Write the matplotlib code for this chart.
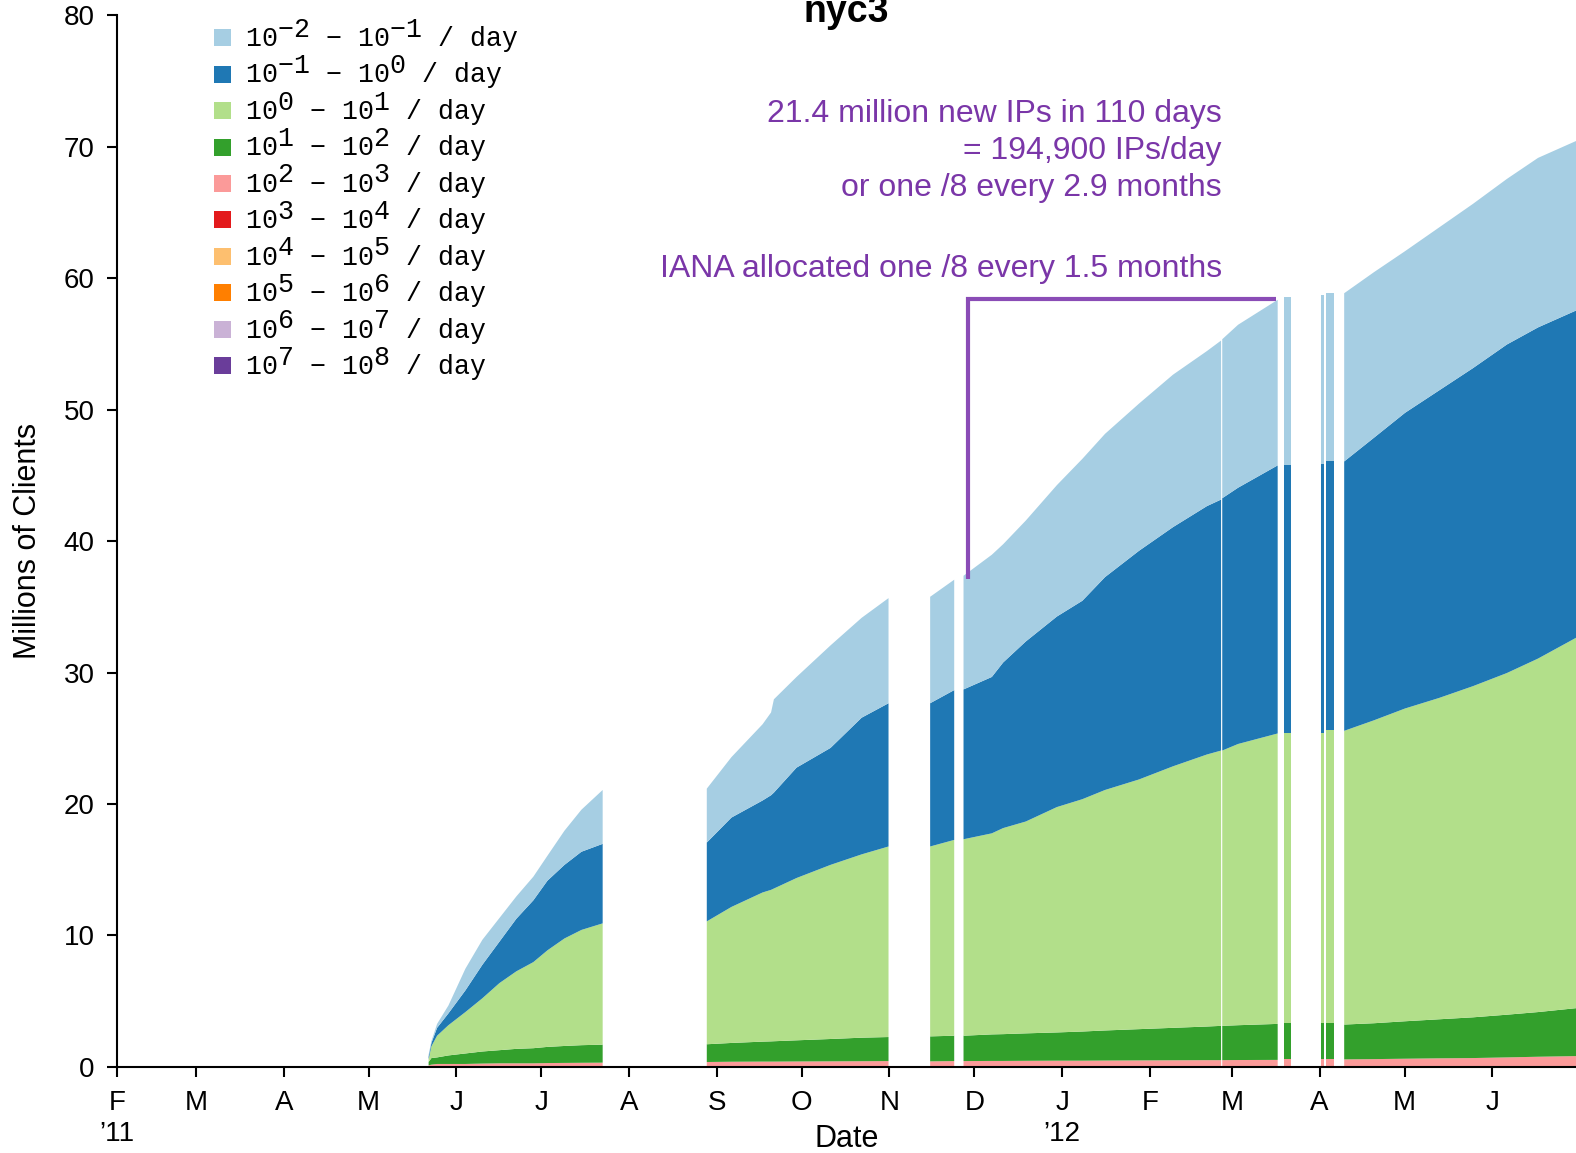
import matplotlib
matplotlib.use('Agg')
import numpy as np
import pandas as pd
import matplotlib.pyplot as plt
import matplotlib.patches as mpatches
import matplotlib.dates as mdates

plt.rcParams['font.family'] = ['Liberation Sans', 'DejaVu Sans']

# daily stacked totals (millions); seg marks runs of days with data
dates = ['2011-05-22', '2011-05-23', '2011-05-25', '2011-05-29', '2011-06-04', '2011-06-10',
         '2011-06-16', '2011-06-22', '2011-06-28', '2011-07-03', '2011-07-09', '2011-07-15',
         '2011-07-22 12:00',
         '2011-08-28 07:00', '2011-09-06', '2011-09-17', '2011-09-20', '2011-09-21', '2011-09-29',
         '2011-10-11', '2011-10-22', '2011-10-31 12:00',
         '2011-11-15 05:00', '2011-11-23 17:00',
         '2011-11-27', '2011-12-07', '2011-12-11', '2011-12-19', '2011-12-30', '2012-01-08',
         '2012-01-16', '2012-01-28', '2012-02-09', '2012-02-21', '2012-02-26',
         '2012-02-26 10:00', '2012-03-03', '2012-03-17',
         '2012-03-19 07:00', '2012-03-21 19:00',
         '2012-04-01 10:00', '2012-04-02 14:00',
         '2012-04-03 10:00', '2012-04-06',
         '2012-04-09 12:00', '2012-04-20', '2012-05-01', '2012-05-13', '2012-05-25',
         '2012-06-06', '2012-06-17', '2012-06-30 14:00']
seg = [0] * 13 + [1] * 9 + [2] * 2 + [3] * 11 + [4] * 3 + [5] * 2 + [6] * 2 + [7] * 2 + [8] * 8

# upper edge of each band (10^2-10^3, 10^1-10^2, 10^0-10^1, 10^-1-10^0, 10^-2-10^-1)
pink_top = [0.15, 0.2, 0.25, 0.25, 0.25, 0.28, 0.3, 0.3, 0.3, 0.32, 0.33, 0.34, 0.35,
            0.4, 0.42, 0.43, 0.43, 0.43, 0.44, 0.45, 0.46, 0.47,
            0.45, 0.47,
            0.47, 0.48, 0.48, 0.49, 0.5, 0.5, 0.51, 0.52, 0.53, 0.54, 0.54,
            0.54, 0.55, 0.56,
            0.56, 0.56,
            0.57, 0.57,
            0.57, 0.57,
            0.6, 0.62, 0.65, 0.68, 0.7, 0.75, 0.8, 0.85]
dgreen_top = [0.4, 0.7, 0.75, 0.9, 1.05, 1.2, 1.3, 1.4, 1.45, 1.55, 1.62, 1.68, 1.72,
              1.75, 1.85, 1.95, 1.97, 1.98, 2.05, 2.15, 2.25, 2.3,
              2.35, 2.4,
              2.4, 2.5, 2.52, 2.58, 2.65, 2.72, 2.8, 2.9, 3.0, 3.1, 3.15,
              3.15, 3.2, 3.3,
              3.3, 3.3,
              3.35, 3.35,
              3.35, 3.35,
              3.25, 3.35, 3.5, 3.65, 3.8, 4.0, 4.2, 4.5]
lgreen_top = [0.6, 1.6, 2.4, 3.2, 4.2, 5.25, 6.4, 7.3, 8.0, 8.9, 9.8, 10.45, 10.95,
              11.1, 12.2, 13.3, 13.5, 13.6, 14.4, 15.4, 16.2, 16.8,
              16.8, 17.3,
              17.35, 17.8, 18.2, 18.7, 19.8, 20.4, 21.1, 21.9, 22.9, 23.8, 24.1,
              24.1, 24.6, 25.4,
              25.4, 25.4,
              25.4, 25.4,
              25.6, 25.6,
              25.6, 26.4, 27.3, 28.1, 29.0, 30.0, 31.1, 32.7]
dblue_top = [0.8, 1.85, 3.0, 4.1, 5.85, 7.8, 9.55, 11.3, 12.7, 14.2, 15.4, 16.4, 17.0,
             17.1, 19.0, 20.3, 20.7, 20.9, 22.8, 24.3, 26.6, 27.7,
             27.7, 28.7,
             28.75, 29.7, 30.8, 32.4, 34.3, 35.5, 37.3, 39.3, 41.1, 42.7, 43.2,
             43.3, 44.1, 45.8,
             45.8, 45.8,
             45.9, 45.9,
             46.1, 46.1,
             46.1, 47.9, 49.8, 51.5, 53.2, 55.0, 56.3, 57.6]
lblue_top = [0.95, 2.0, 3.3, 4.7, 7.5, 9.7, 11.35, 13.0, 14.5, 16.1, 18.0, 19.6, 21.1,
             21.2, 23.6, 26.1, 27.0, 28.0, 29.7, 32.1, 34.2, 35.7,
             35.8, 37.1,
             37.4, 39.0, 39.8, 41.6, 44.3, 46.3, 48.2, 50.5, 52.7, 54.5, 55.3,
             55.4, 56.5, 58.4,
             58.6, 58.6,
             58.7, 58.7,
             58.9, 58.9,
             58.9, 60.5, 62.1, 63.9, 65.7, 67.6, 69.2, 70.5]

# legend bands: exponent ranges of the per-day rate, and their colours
band_lo = ['\u22122', '\u22121', '0', '1', '2', '3', '4', '5', '6', '7']
band_hi = ['\u22121', '0', '1', '2', '3', '4', '5', '6', '7', '8']
band_colors = ['#a6cee3', '#1f78b4', '#b2df8a', '#33a02c', '#fb9a99',
               '#e31a1c', '#fdbf6f', '#ff7f00', '#cab2d6', '#6a3d9a']

month_ticks = pd.date_range('2011-02-01', '2012-06-01', freq='MS')
month_labels = ['F\n\u201911', 'M', 'A', 'M', 'J', 'J', 'A', 'S', 'O', 'N', 'D',
                'J\n\u201912', 'F', 'M', 'A', 'M', 'J']

# 110-day window used in the annotation
bracket_dates = ['2011-11-28 18:00', '2011-11-28 18:00', '2012-03-16 16:00']
bracket_vals = [37.15, 58.45, 58.45]

purple = '#7a36a8'
W, H = 1576, 1153

fig = plt.figure(figsize=(W / 100, H / 100), dpi=100)
ax = fig.add_axes([0.0741, 0.0748, 0.9259, 0.9118])

x_all = mdates.date2num(pd.to_datetime(dates, format='mixed'))
seg = np.array(seg)
tops = [np.array(pink_top), np.array(dgreen_top), np.array(lgreen_top),
        np.array(dblue_top), np.array(lblue_top)]
stack_colors = ['#fb9a99', '#33a02c', '#b2df8a', '#1f78b4', '#a6cee3']
for s in np.unique(seg):
    m = seg == s
    lower = np.zeros(m.sum())
    for top, c in zip(tops, stack_colors):
        ax.fill_between(x_all[m], lower, top[m], color=c, linewidth=0, antialiased=False)
        lower = top[m]

ax.plot(pd.to_datetime(bracket_dates, format='mixed'), bracket_vals, color='#8a4cb6', lw=3,
        solid_joinstyle='miter', solid_capstyle='butt')

ax.text(0.7574, 0.8708, '21.4 million new IPs in 110 days\n= 194,900 IPs/day\nor one /8 every 2.9 months',
        transform=ax.transAxes, ha='right', va='center', color=purple, fontsize=23,
        linespacing=1.3, multialignment='right')
ax.text(0.7574, 0.7585, 'IANA allocated one /8 every 1.5 months', transform=ax.transAxes,
        ha='right', va='center', color=purple, fontsize=23)

ax.set_xlim(pd.Timestamp('2011-02-01'), pd.Timestamp('2012-06-30 14:00'))
ax.set_ylim(0, 80)
ax.set_yticks(range(0, 81, 10))
ax.set_xticks(month_ticks)
ax.set_xticklabels(month_labels)
for lbl in ax.get_xticklabels():
    lbl.set_linespacing(1.28)

for side in ['top', 'right']:
    ax.spines[side].set_visible(False)
for side in ['left', 'bottom']:
    ax.spines[side].set_linewidth(1.5)
ax.tick_params(axis='both', direction='out', length=7, width=1.5, labelsize=20)
ax.tick_params(axis='x', pad=9.5)
ax.tick_params(axis='y', pad=9)

ax.set_ylabel('Millions of Clients', fontsize=22)
ax.yaxis.set_label_coords(-0.0506, 0.5)
ax.set_xlabel('Date', fontsize=22)
ax.xaxis.set_label_coords(0.5, -0.054)

# legend: monospace labels with full-size raised exponents
mono = dict(family='Liberation Mono', size=19.2)
for i, (lo, hi, c) in enumerate(zip(band_lo, band_hi, band_colors)):
    yc = 37.7 + i * 36.44
    fig.add_artist(mpatches.Rectangle((214 / W, 1 - (yc + 8.5) / H), 17 / W, 17 / H,
                                      color=c, transform=fig.transFigure, lw=0))
    base = '10' + ' ' * len(lo) + ' \u2212 10' + ' ' * len(hi) + ' / day'
    sup = '  ' + lo + ' ' * 5 + hi
    fig.text(246 / W, 1 - (yc + 8.3) / H, base, va='baseline', **mono)
    fig.text(246 / W, 1 - (yc - 1.0) / H, sup, va='baseline', **mono)

fig.text(0.537, 1 - 22 / 1153, 'nyc3', ha='center', va='baseline', fontsize=27,
         fontweight='bold')

fig.savefig('out.png', dpi=100)
